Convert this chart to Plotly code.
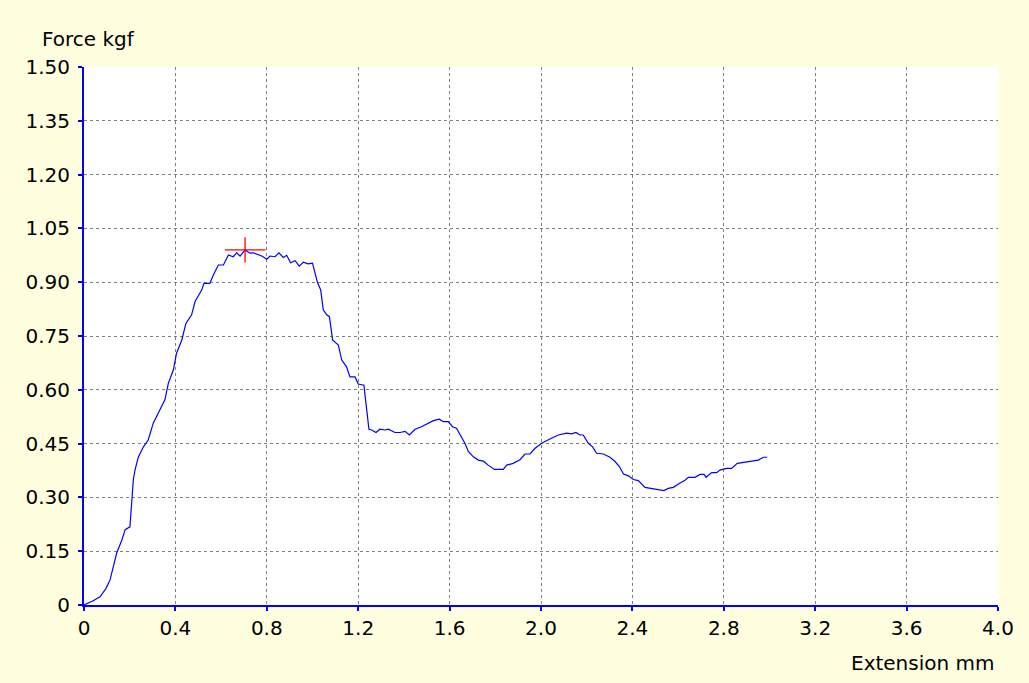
import plotly.graph_objects as go

extension = [0.0, 0.012, 0.04, 0.07, 0.095, 0.114, 0.13, 0.143, 0.165, 0.18, 0.201, 0.209, 0.216, 0.223,
             0.238, 0.26, 0.281, 0.303, 0.333, 0.354, 0.369, 0.391, 0.405, 0.428, 0.446, 0.471, 0.486,
             0.515, 0.525, 0.551, 0.566, 0.588, 0.61, 0.632, 0.653, 0.668, 0.683, 0.705, 0.726, 0.74,
             0.778, 0.8, 0.814, 0.836, 0.853, 0.872, 0.887, 0.904, 0.924, 0.942, 0.96, 0.981, 1.0,
             1.021, 1.036, 1.047, 1.062, 1.074, 1.088, 1.113, 1.128, 1.149, 1.164, 1.186, 1.2, 1.225,
             1.234, 1.247, 1.259, 1.278, 1.295, 1.317, 1.332, 1.361, 1.383, 1.405, 1.424, 1.449, 1.477,
             1.507, 1.529, 1.555, 1.572, 1.594, 1.613, 1.63, 1.653, 1.667, 1.682, 1.704, 1.726, 1.748,
             1.769, 1.796, 1.835, 1.85, 1.878, 1.908, 1.93, 1.952, 1.974, 2.003, 2.039, 2.076, 2.112,
             2.134, 2.153, 2.171, 2.185, 2.207, 2.226, 2.243, 2.273, 2.302, 2.324, 2.343, 2.361, 2.383,
             2.404, 2.426, 2.455, 2.492, 2.521, 2.538, 2.557, 2.579, 2.605, 2.63, 2.645, 2.674, 2.696,
             2.714, 2.722, 2.747, 2.769, 2.783, 2.812, 2.834, 2.859, 2.885, 2.929, 2.951, 2.973, 2.99]
force = [0.0, 0.003, 0.012, 0.023, 0.045, 0.07, 0.11, 0.145, 0.18, 0.21, 0.218, 0.302, 0.35, 0.376,
         0.413, 0.441, 0.46, 0.507, 0.544, 0.572, 0.618, 0.655, 0.702, 0.739, 0.785, 0.809, 0.846,
         0.878, 0.897, 0.897, 0.92, 0.948, 0.948, 0.976, 0.971, 0.982, 0.973, 0.99, 0.981, 0.982,
         0.973, 0.964, 0.973, 0.971, 0.982, 0.969, 0.975, 0.954, 0.96, 0.945, 0.956, 0.951, 0.953,
         0.901, 0.878, 0.823, 0.809, 0.804, 0.739, 0.725, 0.683, 0.664, 0.636, 0.636, 0.616, 0.613,
         0.562, 0.49, 0.488, 0.481, 0.49, 0.488, 0.49, 0.481, 0.481, 0.484, 0.474, 0.49, 0.497,
         0.507, 0.514, 0.518, 0.511, 0.511, 0.497, 0.493, 0.469, 0.451, 0.428, 0.413, 0.404, 0.401,
         0.39, 0.378, 0.378, 0.39, 0.395, 0.405, 0.421, 0.421, 0.437, 0.451, 0.463, 0.474, 0.479,
         0.477, 0.481, 0.474, 0.474, 0.451, 0.441, 0.423, 0.421, 0.412, 0.4, 0.386, 0.365, 0.36,
         0.35, 0.347, 0.328, 0.324, 0.319, 0.319, 0.325, 0.328, 0.339, 0.348, 0.356, 0.356, 0.364,
         0.364, 0.356, 0.369, 0.369, 0.376, 0.381, 0.381, 0.395, 0.397, 0.401, 0.404, 0.412, 0.412]

x_tickvals = [0, 0.4, 0.8, 1.2, 1.6, 2.0, 2.4, 2.8, 3.2, 3.6, 4.0]
x_ticktext = ["0", "0.4", "0.8", "1.2", "1.6", "2.0", "2.4", "2.8", "3.2", "3.6", "4.0"]
y_tickvals = [0, 0.15, 0.30, 0.45, 0.60, 0.75, 0.90, 1.05, 1.20, 1.35, 1.50]
y_ticktext = ["0", "0.15", "0.30", "0.45", "0.60", "0.75", "0.90", "1.05", "1.20", "1.35", "1.50"]

peak_i = max(range(len(force)), key=lambda i: force[i])
peak_x = [extension[peak_i]]
peak_y = [force[peak_i]]

FONT = "'DejaVu Sans', sans-serif"
FS = 20

fig = go.Figure()
fig.add_trace(go.Scatter(x=extension, y=force, mode="lines",
                         line=dict(color="#0000FF", width=1.2), hoverinfo="skip"))
fig.add_trace(go.Scatter(x=peak_x, y=peak_y, mode="markers", hoverinfo="skip",
                         marker=dict(symbol="line-ew", size=29, line=dict(color="#FF0000", width=1.3))))
fig.add_trace(go.Scatter(x=peak_x, y=peak_y, mode="markers", hoverinfo="skip",
                         marker=dict(symbol="line-ns", size=18, line=dict(color="#FF0000", width=1.3))))

axis_common = dict(
    showline=True, linecolor="#0000FF", linewidth=2,
    showgrid=True, gridcolor="#808080", gridwidth=1, griddash="3px,3px",
    zeroline=False, ticks="outside", ticklen=4, tickcolor="#0000FF", tickwidth=2,
    tickfont=dict(family=FONT, size=FS, color="#000000"), mirror=False,
)

fig.update_layout(
    width=1029, height=683,
    paper_bgcolor="#FFFFE0", plot_bgcolor="#FFFFFF",
    margin=dict(l=84, r=31, t=67, b=78),
    showlegend=False,
    xaxis=dict(range=[0, 4.0], tickmode="array", tickvals=x_tickvals, ticktext=x_ticktext,
               ticklabelstandoff=0, **axis_common),
    yaxis=dict(range=[0, 1.5], tickmode="array", tickvals=y_tickvals, ticktext=y_ticktext,
               ticklabelstandoff=4, **axis_common),
    annotations=[
        dict(text="Force kgf", xref="paper", yref="paper", x=0, y=1, xshift=-44, yshift=28,
             xanchor="left", yanchor="middle", showarrow=False,
             font=dict(family=FONT, size=FS, color="#000000")),
        dict(text="Extension mm", xref="paper", yref="paper", x=1, y=0, xshift=-1, yshift=-58,
             xanchor="right", yanchor="middle", showarrow=False,
             font=dict(family=FONT, size=FS, color="#000000")),
    ],
)

fig.write_html("out.html", config={"displayModeBar": False},
               post_script="document.body.style.margin='0';document.body.style.background='#FFFFE0';")
